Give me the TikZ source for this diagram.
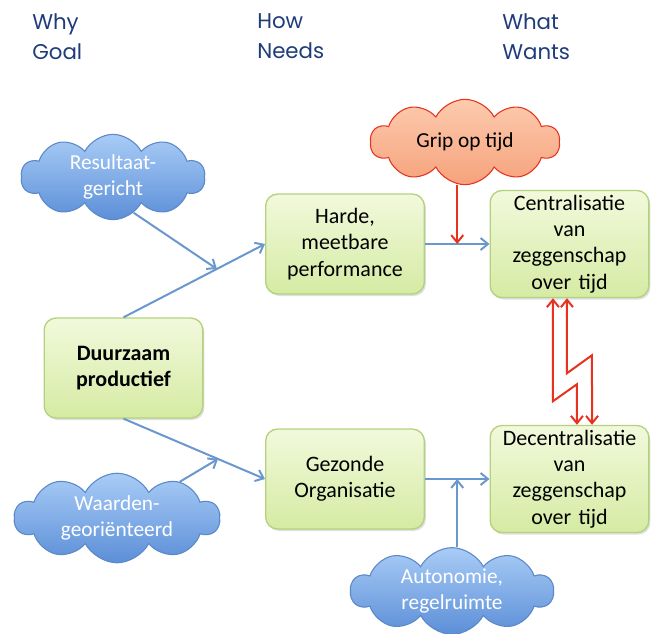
\documentclass[tikz,border=0pt]{standalone}
\usepackage{fontspec}
\setmainfont{Carlito}
\newfontfamily\headfont{Poppins}
\usetikzlibrary{shapes.symbols, arrows.meta, positioning, calc, shadows}

\definecolor{headblue}{HTML}{1F3C7A}
\definecolor{linkblue}{HTML}{6A98CE}
\definecolor{linkred}{HTML}{E8321E}
\definecolor{boxline}{HTML}{B4D27E}
\definecolor{boxtop}{HTML}{F2F9DC}
\definecolor{boxbot}{HTML}{D5EBA3}
\definecolor{cloudtop}{HTML}{A9CCF6}
\definecolor{cloudbot}{HTML}{5C8FD8}
\definecolor{cloudline}{HTML}{5B88C8}
\definecolor{griptop}{HTML}{FCCBAE}
\definecolor{gripbot}{HTML}{F6A27C}

\tikzstyle{header} = [anchor=north west, align=left, inner sep=0pt, text=headblue, font=\headfont\fontsize{16}{23}\selectfont]
\tikzstyle{needbox} = [rectangle, rounded corners=9pt, minimum width=119pt, minimum height=75pt, text width=112pt, align=center, draw=boxline, line width=1pt, top color=boxtop, bottom color=boxbot, font=\fontsize{16.5}{19.8}\selectfont, drop shadow={shadow xshift=1.2pt, shadow yshift=-1.5pt, opacity=0.25}]
\tikzstyle{bluecloud} = [cloud, cloud puffs=10, cloud puff arc=125, cloud ignores aspect, draw=cloudline, line width=0.8pt, top color=cloudtop, bottom color=cloudbot, text=white, align=center, inner sep=0pt, font=\fontsize{16}{19.5}\selectfont]
\tikzstyle{redcloud} = [bluecloud, draw=linkred, top color=griptop, bottom color=gripbot, text=black]
\tikzstyle{bluearrow} = [draw=linkblue, line width=1.5pt, -{Straight Barb[length=5.5pt, width=9pt]}]
\tikzstyle{redarrow} = [draw=linkred, line width=1.5pt, -{Straight Barb[length=5.5pt, width=9pt]}]

\begin{document}
\begin{tikzpicture}[x=0.75pt, y=-0.75pt]
\useasboundingbox (0,0) rectangle (654,633);

% column heads
\node (why) [header] at (32,13) {Why\\Goal};
\node (how) [header] at (257,13) {How\\Needs};
\node (what) [header] at (502,13) {What\\Wants};

% boxes
\node (duur) [needbox] at (123.5,368) {\textbf{Duurzaam}\\\textbf{productief}};
\node (harde) [needbox] at (345,244) {Harde,\\meetbare\\performance};
\node (gez) [needbox] at (345,479) {Gezonde\\Organisatie};
\node (cent) [needbox, minimum height=78pt] at (569.5,244) {Centralisatie\\van\\zeggenschap\\over tijd};
\node (decent) [needbox, minimum height=77pt] at (569.5,479) {Decentralisatie\\van\\zeggenschap\\over tijd};

% clouds
\node (res) [bluecloud, minimum width=138pt, minimum height=64pt] at (113,177) {Resultaat-\\gericht};
\node (grip) [redcloud, minimum width=142pt, minimum height=64pt] at (465,142) {Grip op tijd};
\node (waar) [bluecloud, minimum width=154pt, minimum height=62pt] at (117,518) {Waarden-\\georiënteerd};
\node (auto) [bluecloud, minimum width=152pt, minimum height=62pt] at (452,591) {Autonomie,\\regelruimte};

% join points
\coordinate (tjoin) at ($(duur.north)!0.66!(harde.west)$);
\coordinate (bjoin) at ($(duur.south)!0.668!(gez.west)$);
\coordinate (gjoin) at ($(harde.east)!0.5!(cent.west)$);
\coordinate (ajoin) at ($(gez.east)!0.5!(decent.west)$);

\draw [bluearrow] (duur.north) -- (harde.west);
\draw [bluearrow] (duur.south) -- (gez.west);
\draw [bluearrow] (res.-60) -- (tjoin);
\draw [bluearrow] (waar.30) -- (bjoin);
\draw [bluearrow] (harde.east) -- (cent.west);
\draw [bluearrow] (gez.east) -- (decent.west);
\draw [redarrow] (grip.south -| gjoin) -- (gjoin);
\draw [bluearrow] (auto.north -| ajoin) -- (ajoin);

% lightning
\draw [redarrow, {Straight Barb[length=5.5pt, width=9pt]}-{Straight Barb[length=5.5pt, width=9pt]}] ([xshift=-12.4pt]cent.south) -- ++(0,103) -- ++(24,-17) -- ([xshift=5.6pt]decent.north);
\draw [redarrow, {Straight Barb[length=5.5pt, width=9pt]}-{Straight Barb[length=5.5pt, width=9pt]}] ([xshift=-1.9pt]cent.south) -- ++(0,75) -- ++(25,-18) -- ([xshift=16.9pt]decent.north);

\end{tikzpicture}
\end{document}
